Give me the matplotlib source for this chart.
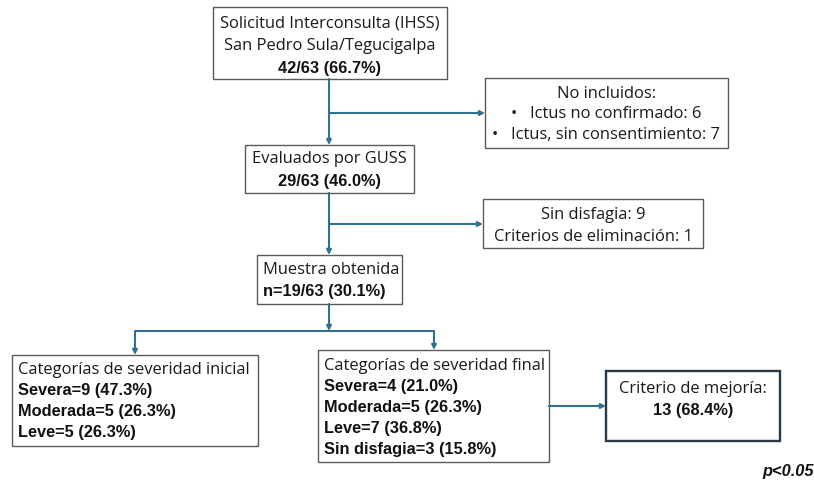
import matplotlib
matplotlib.use('Agg')
import matplotlib.pyplot as plt
from matplotlib.patches import Rectangle

plt.rcParams['font.family'] = ['Open Sans', 'DejaVu Sans']

# texto de cada caja: (linea, negrita)
solicitud = [('Solicitud Interconsulta (IHSS)', False),
             ('San Pedro Sula/Tegucigalpa', False),
             ('42/63 (66.7%)', True)]
no_incluidos = [('No incluidos:', False),
                ('•   Ictus no confirmado: 6', False),
                ('•   Ictus, sin consentimiento: 7', False)]
evaluados = [('Evaluados por GUSS', False),
             ('29/63 (46.0%)', True)]
sin_disfagia = [('Sin disfagia: 9', False),
                ('Criterios de eliminación: 1', False)]
muestra = [('Muestra obtenida', False),
           ('n=19/63 (30.1%)', True)]
sev_inicial = [('Categorías de severidad inicial', False),
               ('Severa=9 (47.3%)', True),
               ('Moderada=5 (26.3%)', True),
               ('Leve=5 (26.3%)', True)]
sev_final = [('Categorías de severidad final', False),
             ('Severa=4 (21.0%)', True),
             ('Moderada=5 (26.3%)', True),
             ('Leve=7 (36.8%)', True),
             ('Sin disfagia=3 (15.8%)', True)]
mejoria = [('Criterio de mejoría:', False),
           ('13 (68.4%)', True)]

line_c = '#2f7191'
edge_c = '#5a5a5a'
fs = 11.9
fs_b = 11.8
bold_font = ['Liberation Sans', 'DejaVu Sans']

fig = plt.figure(figsize=(8.14, 4.85), dpi=100)
ax = fig.add_axes([0, 0, 1, 1])
ax.set_xlim(0, 814)
ax.set_ylim(485, 0)
ax.axis('off')


def box(x0, y0, x1, y1, lines, y_first, step, align='center', pad=6, ec=edge_c, lw=1.0):
    ax.add_patch(Rectangle((x0, y0), x1 - x0, y1 - y0, fill=False, ec=ec, lw=lw))
    if align == 'center':
        tx = (x0 + x1) / 2
    else:
        tx = x0 + pad
    for i, (t, b) in enumerate(lines):
        if b:
            ax.text(tx, y_first + i * step, t, ha=align, va='center', fontsize=fs_b,
                    fontweight='bold', family=bold_font, color='#111111')
        else:
            ax.text(tx, y_first + i * step, t, ha=align, va='center', fontsize=fs,
                    color='#1a1a1a')


def arrow(x0, y0, x1, y1):
    ax.annotate('', xy=(x1, y1), xytext=(x0, y0),
                arrowprops=dict(arrowstyle='-|>', color=line_c, lw=1.5,
                                mutation_scale=7, shrinkA=0, shrinkB=0))


def seg(xs, ys):
    ax.plot(xs, ys, color=line_c, lw=1.5, solid_capstyle='butt')


box(213, 8, 447, 80, solicitud, 24, 22.5)
box(485, 79, 728, 149, no_incluidos, 94, 20.5)
box(245, 146, 414, 194, evaluados, 159, 22.5)
box(483, 200, 703, 249, sin_disfagia, 215, 22)
box(257, 256, 402, 305, muestra, 270, 22, align='left')
box(12, 356, 258, 447, sev_inicial, 370, 21, align='left')
box(318, 351, 549, 463, sev_final, 366, 21, align='left')
box(606, 372, 780, 442, mejoria, 389, 22, ec='#2b3a48', lw=1.7)

# flechas
arrow(329, 80, 329, 146)
arrow(329, 114, 485, 114)
arrow(329, 194, 329, 256)
arrow(329, 225, 483, 225)
arrow(329, 305, 329, 332)
seg([135, 434], [332, 332])
arrow(135, 332, 135, 356)
arrow(434, 332, 434, 351)
arrow(549, 407, 606, 407)

ax.text(814, 472, 'p<0.05', ha='right', va='center', fontsize=fs_b,
        fontweight='bold', fontstyle='italic', family=bold_font, color='#111111')

fig.savefig('out.png', dpi=100, facecolor='white')
